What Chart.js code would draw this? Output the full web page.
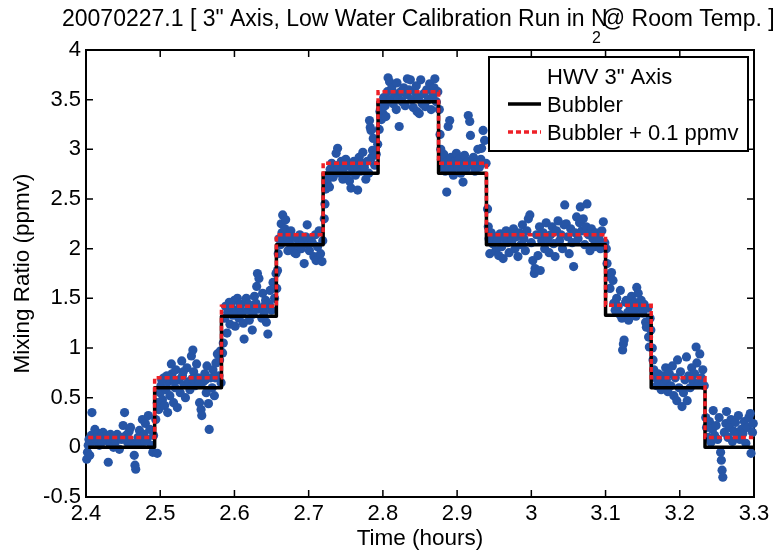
<!DOCTYPE html>
<html>
<head>
<meta charset="utf-8">
<script src="https://cdn.jsdelivr.net/npm/chart.js@4"></script>
<style>
  html, body { margin: 0; padding: 0; background: #fff; }
  canvas { display: block; }
</style>
</head>
<body>
<canvas id="chart" width="781" height="556"></canvas>
<script>
// ------------------------------------
// DATA
// ------------------------------------
const titleMain = '20070227.1 [ 3" Axis, Low Water Calibration Run in N';
const titleSub = '2';
const titleRest = '@ Room Temp. ]';

const xTicks = [2.4, 2.5, 2.6, 2.7, 2.8, 2.9, 3.0, 3.1, 3.2, 3.3];
const yTicks = [-0.5, 0, 0.5, 1, 1.5, 2, 2.5, 3, 3.5, 4];

// bubbler step edges (hours) and levels (ppmv)
const stepTimes = [2.403, 2.4925, 2.5825, 2.6565, 2.7195, 2.7935, 2.875, 2.9395, 3.1, 3.1615, 3.234, 3.299];
const bubblerLevels = [0, 0.6, 1.32, 2.04, 2.76, 3.48, 2.76, 2.04, 1.33, 0.6, 0];
const bubblerPlusLevels = [0.1, 0.7, 1.42, 2.14, 2.86, 3.58, 2.86, 2.14, 1.43, 0.7, 0.1];

// HWV 3" axis samples [time, ppmv]
const hwvData = [
  // step 1
  [2.401,-0.12],[2.402,-0.05],[2.403,0.02],[2.404,0.08],[2.405,-0.08],[2.407,0.12],[2.408,0.35],[2.410,0.06],
  [2.412,0.18],[2.414,0.10],[2.416,0.14],[2.418,0.02],[2.420,0.11],[2.423,0.15],[2.425,0.07],[2.428,0.12],
  [2.430,-0.15],[2.432,0.04],[2.435,0.09],[2.437,0.00],[2.440,0.06],[2.442,0.13],[2.445,-0.02],[2.448,0.08],
  [2.450,0.22],[2.452,0.35],[2.454,0.12],[2.456,0.05],[2.458,0.16],[2.460,0.20],[2.462,0.04],[2.465,-0.08],
  [2.466,-0.18],[2.467,-0.22],[2.470,0.10],[2.472,0.17],[2.474,0.05],[2.476,0.28],[2.478,0.13],[2.480,0.24],
  [2.482,0.08],[2.484,0.32],[2.486,0.18],[2.488,0.02],[2.490,-0.05],[2.491,0.12],[2.496,-0.06],
  [2.406,0.04],[2.413,0.09],[2.421,0.05],[2.433,0.13],[2.447,0.10],[2.457,0.09],[2.469,0.03],[2.479,0.06],
  // step 2
  [2.494,0.28],[2.496,0.45],[2.498,0.38],[2.500,0.55],[2.501,0.62],[2.503,0.48],[2.505,0.70],[2.506,0.42],
  [2.508,0.58],[2.510,0.35],[2.511,0.66],[2.513,0.52],[2.515,0.84],[2.516,0.74],[2.518,0.45],[2.520,0.60],
  [2.521,0.78],[2.523,0.40],[2.525,0.68],[2.527,0.55],[2.529,0.87],[2.530,0.72],[2.532,0.63],[2.534,0.50],
  [2.536,0.80],[2.538,0.66],[2.540,0.58],[2.542,0.92],[2.544,0.98],[2.545,0.76],[2.547,0.62],[2.549,0.84],
  [2.551,0.70],[2.553,0.45],[2.555,0.38],[2.556,0.32],[2.558,0.66],[2.560,0.74],[2.562,0.55],[2.563,0.82],
  [2.565,0.44],[2.566,0.18],[2.568,0.70],[2.570,0.60],[2.571,0.78],[2.573,0.52],[2.575,0.85],[2.577,0.94],
  [2.579,0.72],[2.580,0.88],[2.582,0.65],[2.581,0.97],
  [2.502,0.68],[2.509,0.72],[2.519,0.67],[2.531,0.76],[2.543,0.69],[2.552,0.64],[2.561,0.68],[2.574,0.70],
  // step 3
  [2.584,0.95],[2.585,1.05],[2.587,1.30],[2.588,1.42],[2.590,1.15],[2.591,1.36],[2.593,1.46],[2.594,1.24],
  [2.596,1.40],[2.598,1.33],[2.600,1.48],[2.601,1.22],[2.603,1.38],[2.604,1.50],[2.606,1.30],[2.608,1.44],
  [2.610,1.35],[2.612,1.25],[2.613,1.09],[2.615,1.46],[2.616,1.50],[2.618,1.38],[2.620,1.28],[2.622,1.42],
  [2.624,1.18],[2.625,1.34],[2.627,1.52],[2.629,1.45],[2.630,1.62],[2.631,1.75],[2.633,1.70],[2.635,1.40],
  [2.637,1.30],[2.638,1.55],[2.640,1.36],[2.642,1.48],[2.643,1.26],[2.645,1.14],[2.647,1.44],[2.648,1.58],
  [2.650,1.38],[2.652,1.66],[2.654,1.50],[2.656,1.75],
  [2.595,1.45],[2.607,1.41],[2.619,1.44],[2.632,1.39],[2.641,1.43],
  // step 4
  [2.657,1.60],[2.658,1.78],[2.659,1.95],[2.660,2.10],[2.662,2.04],[2.663,2.25],[2.664,2.16],[2.665,2.34],
  [2.667,2.08],[2.668,2.20],[2.669,2.29],[2.671,2.12],[2.672,1.98],[2.674,2.06],[2.676,2.18],[2.677,2.02],
  [2.679,2.12],[2.681,1.96],[2.683,1.95],[2.684,2.10],[2.686,2.04],[2.688,2.14],[2.690,2.00],[2.692,2.08],
  [2.694,1.85],[2.696,2.12],[2.698,2.24],[2.699,2.04],[2.701,1.98],[2.703,2.10],[2.705,2.06],[2.707,1.92],
  [2.709,2.14],[2.710,1.88],[2.712,2.02],[2.714,2.18],[2.716,1.95],[2.718,1.87],[2.719,2.08],
  // step 5
  [2.721,2.30],[2.722,2.45],[2.723,2.60],[2.725,2.66],[2.726,2.74],[2.728,2.62],[2.729,2.80],[2.731,2.86],
  [2.733,2.72],[2.735,2.78],[2.737,2.96],[2.739,3.01],[2.740,2.84],[2.742,2.76],[2.744,2.88],[2.746,2.70],
  [2.748,2.82],[2.750,2.90],[2.751,2.74],[2.753,2.85],[2.755,2.68],[2.757,2.61],[2.759,2.80],[2.761,2.88],
  [2.763,2.74],[2.765,2.83],[2.766,2.59],[2.768,2.92],[2.770,2.78],[2.772,2.86],[2.773,2.97],[2.775,2.82],
  [2.777,2.70],[2.779,2.88],[2.781,2.76],[2.782,3.29],[2.783,3.22],[2.784,3.19],[2.785,2.92],[2.786,2.99],
  [2.787,3.11],[2.789,2.84],[2.791,2.95],[2.793,3.05],
  // step 6
  [2.795,3.20],[2.796,3.38],[2.797,3.46],[2.798,3.30],[2.800,3.36],[2.801,3.52],[2.803,3.44],[2.804,3.33],
  [2.806,3.58],[2.807,3.72],[2.809,3.68],[2.810,3.50],[2.812,3.62],[2.814,3.46],[2.816,3.56],[2.818,3.40],
  [2.819,3.67],[2.821,3.52],[2.822,3.23],[2.824,3.58],[2.826,3.48],[2.828,3.62],[2.830,3.44],[2.832,3.55],
  [2.833,3.71],[2.835,3.60],[2.837,3.70],[2.839,3.50],[2.841,3.42],[2.843,3.58],[2.845,3.64],[2.846,3.38],
  [2.848,3.52],[2.849,3.36],[2.851,3.70],[2.853,3.46],[2.855,3.56],[2.857,3.43],[2.859,3.60],[2.861,3.50],
  [2.863,3.66],[2.865,3.40],[2.867,3.54],[2.869,3.62],[2.870,3.71],[2.872,3.48],[2.874,3.58],
  // step 7
  [2.876,3.40],[2.877,3.15],[2.878,3.00],[2.879,2.90],[2.880,2.82],[2.882,2.95],[2.884,2.78],[2.886,2.57],
  [2.887,2.88],[2.888,3.23],[2.889,2.84],[2.890,3.29],[2.892,2.92],[2.894,2.80],[2.895,2.74],[2.897,2.88],
  [2.899,2.96],[2.901,2.82],[2.903,2.90],[2.905,2.76],[2.907,2.86],[2.908,2.67],[2.910,2.94],[2.912,2.80],
  [2.914,2.88],[2.915,3.34],[2.917,3.28],[2.918,3.14],[2.920,2.84],[2.922,2.92],[2.924,2.78],[2.926,2.86],
  [2.928,3.00],[2.930,2.82],[2.932,2.90],[2.933,3.01],[2.935,3.19],[2.937,3.09],[2.939,2.86],
  // step 8
  [2.941,2.40],[2.942,2.22],[2.943,2.10],[2.944,1.95],[2.946,2.16],[2.948,2.05],[2.950,2.12],[2.952,1.98],
  [2.954,2.08],[2.956,1.93],[2.958,2.15],[2.960,2.02],[2.962,1.90],[2.964,2.10],[2.966,2.18],[2.968,2.06],
  [2.970,1.96],[2.972,2.14],[2.974,2.08],[2.976,2.20],[2.978,2.00],[2.980,2.12],[2.982,1.92],[2.984,2.16],
  [2.986,2.04],[2.988,2.24],[2.990,2.10],[2.992,1.98],[2.994,2.18],[2.996,2.30],[2.998,2.34],[3.000,2.06],
  [3.002,1.88],[3.004,1.75],[3.005,1.80],[3.007,2.14],[3.009,1.93],[3.011,2.22],[3.012,1.78],[3.014,2.08],
  [3.016,2.16],[3.018,2.00],[3.020,2.26],[3.022,2.10],[3.024,1.96],[3.026,2.14],[3.028,2.22],[3.030,2.05],
  [3.032,1.92],[3.034,2.18],[3.036,2.28],[3.038,2.08],[3.040,2.14],[3.042,2.00],[3.044,2.24],[3.045,2.44],
  [3.047,2.25],[3.049,2.12],[3.051,1.95],[3.053,2.20],[3.055,2.06],[3.057,1.82],[3.059,2.16],[3.061,2.32],
  [3.063,2.10],[3.065,2.26],[3.066,2.42],[3.068,2.18],[3.070,2.30],[3.072,2.04],[3.074,2.22],[3.075,2.45],
  [3.077,2.14],[3.079,1.98],[3.081,2.20],[3.083,2.10],[3.085,2.02],[3.087,2.16],[3.089,2.08],[3.091,2.12],
  [3.093,2.00],[3.095,2.18],[3.097,2.27],[3.099,2.06],
  // step 9
  [3.101,2.00],[3.102,1.85],[3.104,1.72],[3.106,1.60],[3.108,1.76],[3.110,1.68],[3.111,1.45],[3.113,1.38],
  [3.115,1.50],[3.117,1.42],[3.119,1.34],[3.120,1.58],[3.122,1.30],[3.123,0.98],[3.124,1.04],[3.125,1.08],
  [3.127,1.46],[3.128,1.48],[3.130,1.36],[3.131,1.28],[3.133,1.42],[3.135,1.52],[3.137,1.38],[3.139,1.46],
  [3.141,1.32],[3.142,1.61],[3.144,1.55],[3.146,1.40],[3.148,1.48],[3.150,1.35],[3.152,1.44],[3.154,1.26],
  [3.155,1.21],[3.157,1.40],[3.158,1.11],[3.159,1.01],[3.160,1.30],[3.161,1.18],
  // step 10
  [3.163,1.00],[3.164,0.88],[3.165,0.78],[3.167,0.70],[3.169,0.62],[3.171,0.74],[3.173,0.66],[3.175,0.58],
  [3.177,0.72],[3.179,0.64],[3.181,0.80],[3.182,0.68],[3.184,0.56],[3.186,0.74],[3.188,0.62],[3.190,0.82],
  [3.192,0.52],[3.194,0.70],[3.196,0.47],[3.197,0.88],[3.199,0.60],[3.201,0.76],[3.203,0.41],[3.205,0.55],
  [3.207,0.68],[3.209,0.91],[3.210,0.47],[3.212,0.72],[3.214,0.60],[3.216,0.80],[3.218,0.66],[3.220,0.74],
  [3.222,1.01],[3.223,0.85],[3.225,0.64],[3.227,0.94],[3.229,0.70],[3.231,0.78],[3.233,0.62],
  // step 11
  [3.235,0.30],[3.236,0.20],[3.238,0.10],[3.240,0.26],[3.242,0.05],[3.244,0.18],[3.245,0.37],[3.247,0.12],
  [3.249,0.22],[3.251,0.08],[3.253,0.30],[3.255,-0.05],[3.256,-0.13],[3.257,-0.23],[3.258,-0.30],[3.260,0.15],
  [3.262,0.24],[3.263,0.36],[3.265,0.10],[3.267,0.20],[3.269,0.28],[3.271,0.06],[3.273,0.16],[3.275,0.25],
  [3.277,0.12],[3.279,0.32],[3.281,0.08],[3.283,0.18],[3.285,0.14],[3.287,0.26],[3.289,0.04],[3.291,0.20],
  [3.293,0.30],[3.295,0.34],[3.296,-0.06],[3.298,0.15],[3.299,0.24]
];

// ------------------------------------
// build step lines from edges + levels
// ------------------------------------
function stepLine(levels) {
  const pts = [];
  levels.forEach((v, i) => {
    pts.push({ x: stepTimes[i], y: v });
    pts.push({ x: stepTimes[i + 1], y: v });
  });
  return pts;
}

const FONT = "'Liberation Sans', Arial, Helvetica, sans-serif";
Chart.defaults.font.family = FONT;
Chart.defaults.color = "#000";

// ------------------------------------
// frame, inward ticks, legend, title
// ------------------------------------
const matlabAxes = {
  id: "matlabAxes",
  beforeDatasetsDraw(chart) {
    const { ctx, chartArea: a, scales } = chart;
    ctx.save();
    ctx.strokeStyle = "#000";
    ctx.lineWidth = 2;
    ctx.beginPath();
    ctx.moveTo(a.left - 1, a.top);
    ctx.lineTo(a.right, a.top);
    ctx.lineTo(a.right, a.bottom + 1);
    ctx.stroke();
    ctx.lineWidth = 1.5;
    ctx.beginPath();
    xTicks.forEach((t) => {
      const px = scales.x.getPixelForValue(t);
      ctx.moveTo(px, a.bottom); ctx.lineTo(px, a.bottom - 7);
      ctx.moveTo(px, a.top); ctx.lineTo(px, a.top + 7);
    });
    yTicks.forEach((t) => {
      const py = scales.y.getPixelForValue(t);
      ctx.moveTo(a.left, py); ctx.lineTo(a.left + 7, py);
      ctx.moveTo(a.right, py); ctx.lineTo(a.right - 7, py);
    });
    ctx.stroke();
    ctx.restore();
  },
  afterDatasetsDraw(chart) {
    const { ctx } = chart;
    const ds = chart.data.datasets;
    const box = { x: 489, y: 57, w: 259, h: 94 };
    ctx.save();
    ctx.fillStyle = "#fff";
    ctx.fillRect(box.x, box.y, box.w, box.h);
    ctx.strokeStyle = "#000";
    ctx.lineWidth = 2;
    ctx.strokeRect(box.x, box.y, box.w, box.h);
    ctx.font = "22px " + FONT;
    ctx.fillStyle = "#000";
    ctx.textBaseline = "alphabetic";
    [0, 1, 2].forEach((i) => {
      const base = box.y + 27 + i * 28;
      ctx.fillText(ds[i].label, box.x + 58, base);
      if (ds[i].type === "line") {
        ctx.beginPath();
        ctx.strokeStyle = ds[i].borderColor;
        ctx.lineWidth = ds[i].borderWidth;
        ctx.setLineDash(ds[i].borderDash || []);
        ctx.moveTo(box.x + 19, base - 8);
        ctx.lineTo(box.x + 52, base - 8);
        ctx.stroke();
        ctx.setLineDash([]);
      }
    });
    ctx.restore();
  },
  afterDraw(chart) {
    const { ctx } = chart;
    ctx.save();
    ctx.fillStyle = "#000";
    ctx.textBaseline = "alphabetic";
    ctx.font = "23px " + FONT;
    const x0 = 62;
    ctx.fillText(titleMain, x0, 26);
    const w = ctx.measureText(titleMain).width;
    const nW = ctx.measureText("N").width;
    const xN = x0 + w - nW;
    ctx.font = "16px " + FONT;
    ctx.fillText(titleSub, xN + 1, 43);
    const subW = ctx.measureText(titleSub).width;
    ctx.font = "23px " + FONT;
    ctx.fillText(titleRest, xN + subW + 2, 26);
    ctx.restore();
  },
};

new Chart(document.getElementById("chart"), {
  type: "scatter",
  data: {
    datasets: [
      {
        label: 'HWV 3" Axis',
        type: "scatter",
        data: hwvData.map((p) => ({ x: p[0], y: p[1] })),
        backgroundColor: "#2655a6",
        borderWidth: 0,
        pointRadius: 4.6,
        clip: false,
        order: 3,
      },
      {
        label: "Bubbler",
        type: "line",
        data: stepLine(bubblerLevels),
        borderColor: "#000000",
        borderWidth: 3.5,
        borderJoinStyle: "round",
        pointRadius: 0,
        fill: false,
        order: 2,
      },
      {
        label: "Bubbler + 0.1 ppmv",
        type: "line",
        data: stepLine(bubblerPlusLevels),
        borderColor: "#ee2027",
        borderWidth: 3.5,
        borderDash: [5, 3],
        pointRadius: 0,
        fill: false,
        order: 1,
      },
    ],
  },
  options: {
    responsive: false,
    animation: false,
    events: [],
    layout: { padding: { top: 50, right: 27, bottom: 0, left: 0 } },
    plugins: { legend: { display: false }, tooltip: { enabled: false } },
    scales: {
      x: {
        type: "linear",
        min: 2.4,
        max: 3.3,
        afterFit: (s) => { s.height = 59; },
        afterBuildTicks: (s) => { s.ticks = xTicks.map((v) => ({ value: v })); },
        grid: { display: false, drawTicks: false },
        border: { display: true, color: "#000", width: 2 },
        ticks: {
          font: { size: 22 },
          padding: 4,
          maxRotation: 0,
          autoSkip: false,
          callback: (v) => String(Number(v.toFixed(1))),
        },
        title: { display: true, text: "Time (hours)", font: { size: 22.5 }, padding: { top: 0, bottom: 4 } },
      },
      y: {
        type: "linear",
        min: -0.5,
        max: 4,
        afterFit: (s) => { s.width = 86; },
        afterBuildTicks: (s) => { s.ticks = yTicks.map((v) => ({ value: v })); },
        grid: { display: false, drawTicks: false },
        border: { display: true, color: "#000", width: 2 },
        ticks: {
          font: { size: 22 },
          padding: 5,
          callback: (v) => String(v),
        },
        title: { display: true, text: "Mixing Ratio (ppmv)", font: { size: 22.5 }, padding: { top: 9, bottom: 0 } },
      },
    },
  },
  plugins: [matlabAxes],
});
</script>
</body>
</html>
